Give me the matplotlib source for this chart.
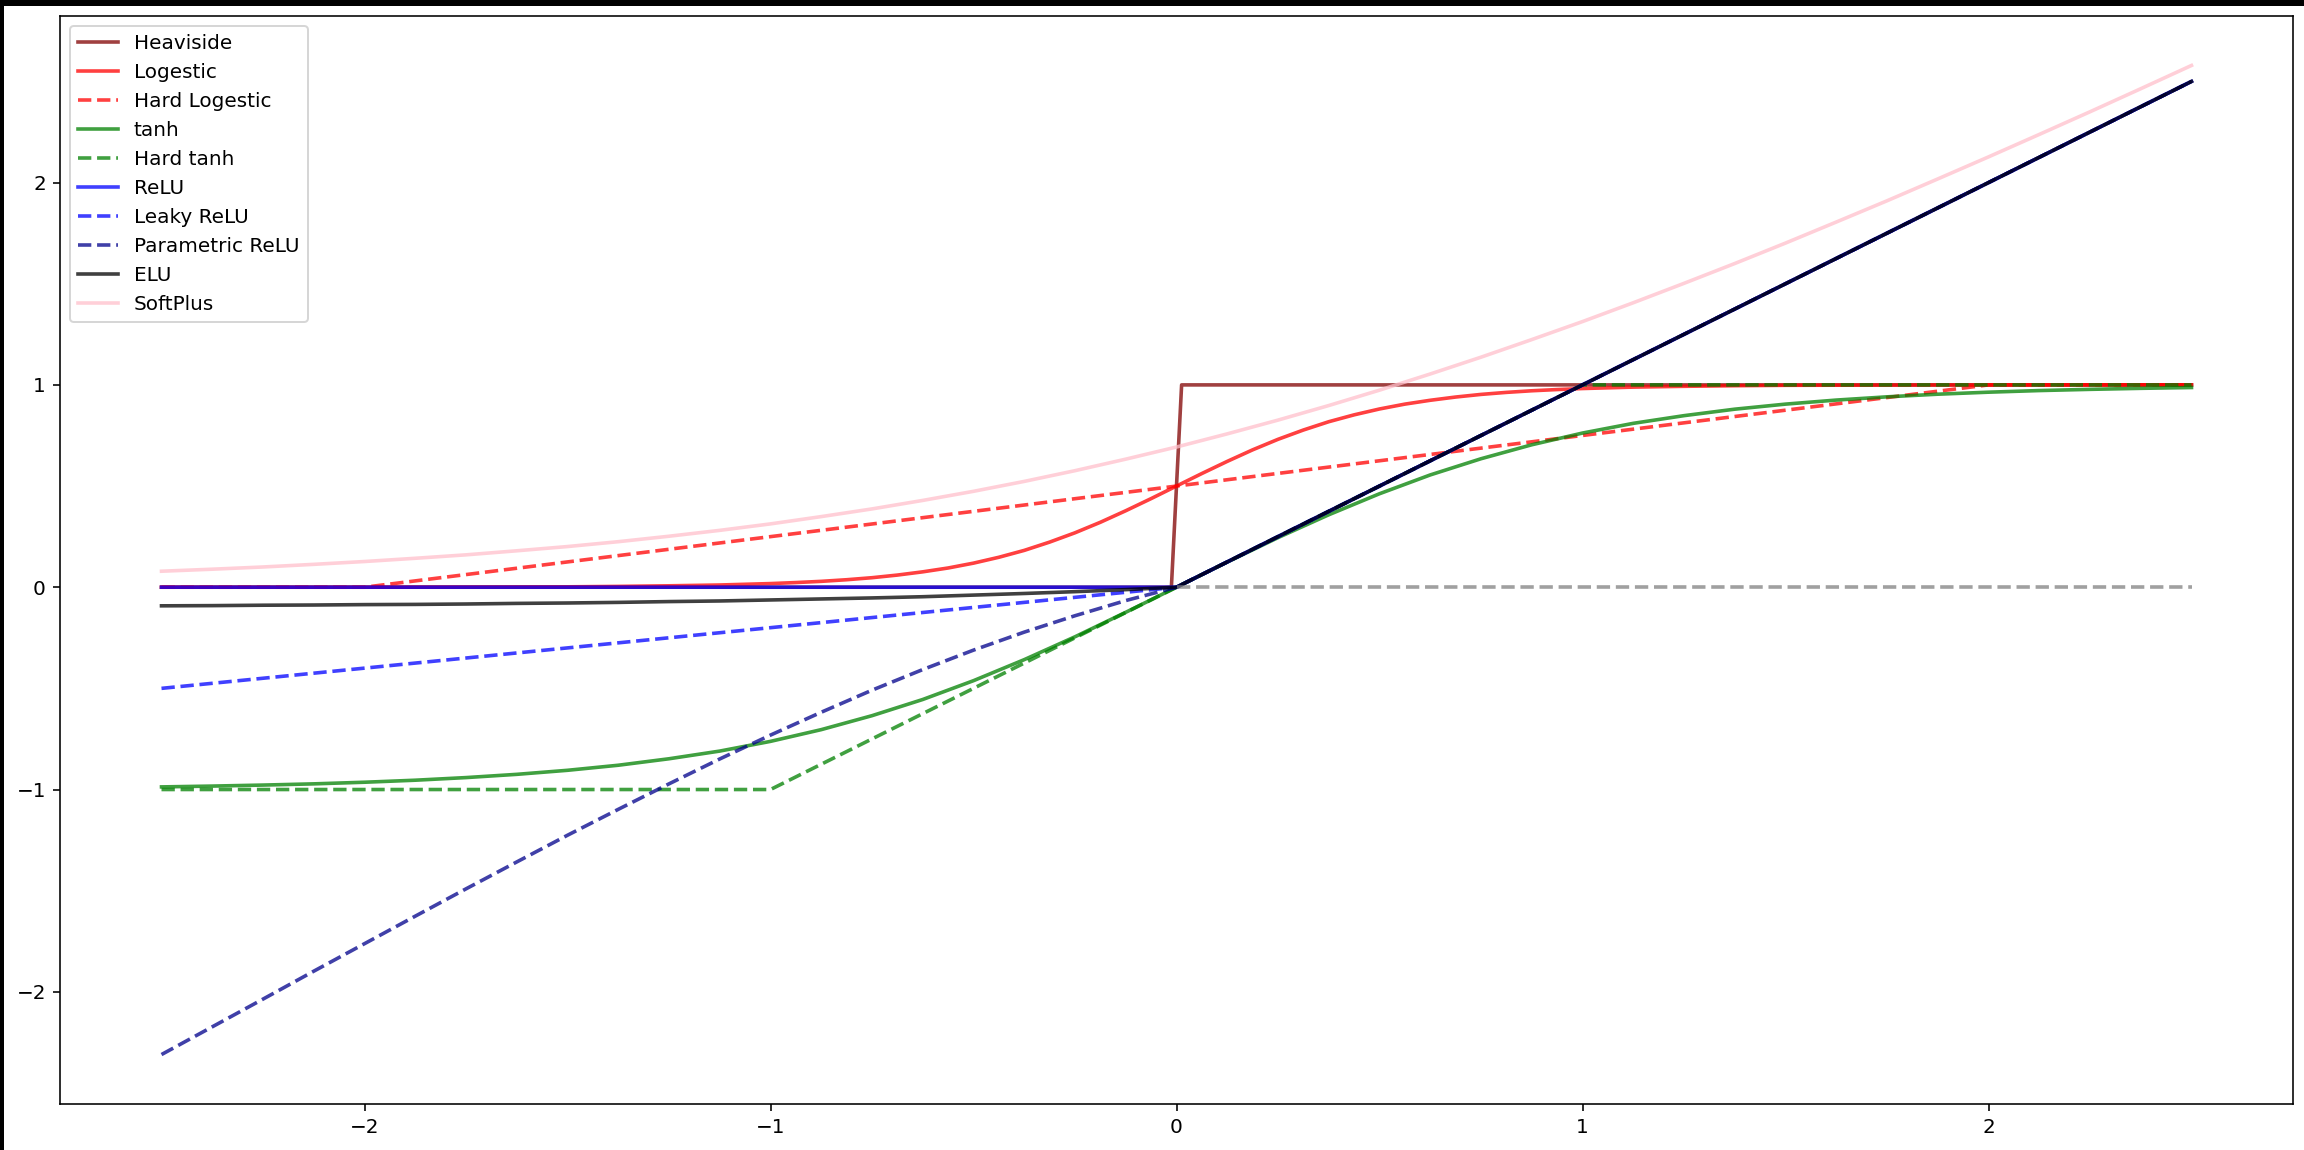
import matplotlib
matplotlib.use("Agg")
import matplotlib.pyplot as plt
from matplotlib.patches import Rectangle

# ---- data ----
x_grid = [-2.5, -2.375, -2.25, -2.125, -2.0, -1.875, -1.75, -1.625, -1.5, -1.375,
          -1.25, -1.125, -1.0, -0.875, -0.75, -0.625, -0.5, -0.375, -0.25, -0.125,
          0.0, 0.125, 0.25, 0.375, 0.5, 0.625, 0.75, 0.875, 1.0, 1.125,
          1.25, 1.375, 1.5, 1.625, 1.75, 1.875, 2.0, 2.125, 2.25, 2.375, 2.5]

logistic_x = [-2.5, -2.25, -2.0, -1.75, -1.5, -1.375, -1.25, -1.125, -1.0,
              -0.9375, -0.875, -0.8125, -0.75, -0.6875, -0.625, -0.5625, -0.5,
              -0.4375, -0.375, -0.3125, -0.25, -0.1875, -0.125, -0.0625, 0.0,
              0.0625, 0.125, 0.1875, 0.25, 0.3125, 0.375, 0.4375, 0.5,
              0.5625, 0.625, 0.6875, 0.75, 0.8125, 0.875, 0.9375, 1.0,
              1.125, 1.25, 1.375, 1.5, 1.75, 2.0, 2.25, 2.5]
logistic_y = [0.000, 0.000, 0.000, 0.001, 0.002, 0.004, 0.007, 0.011, 0.018,
              0.023, 0.029, 0.037, 0.047, 0.060, 0.076, 0.095, 0.119,
              0.148, 0.182, 0.223, 0.269, 0.321, 0.378, 0.438, 0.500,
              0.562, 0.622, 0.679, 0.731, 0.777, 0.818, 0.852, 0.881,
              0.905, 0.924, 0.940, 0.953, 0.963, 0.971, 0.977, 0.982,
              0.989, 0.993, 0.996, 0.998, 0.999, 1.000, 1.000, 1.000]

tanh_y = [-0.987, -0.983, -0.978, -0.972, -0.964, -0.954, -0.941, -0.925, -0.905, -0.880,
          -0.848, -0.810, -0.762, -0.704, -0.635, -0.555, -0.462, -0.358, -0.245, -0.124,
          0.000, 0.124, 0.245, 0.358, 0.462, 0.555, 0.635, 0.704, 0.762, 0.810,
          0.848, 0.880, 0.905, 0.925, 0.941, 0.954, 0.964, 0.972, 0.978, 0.983, 0.987]

softplus_y = [0.079, 0.089, 0.100, 0.113, 0.127, 0.143, 0.160, 0.180, 0.201, 0.225,
              0.252, 0.281, 0.313, 0.349, 0.387, 0.429, 0.474, 0.523, 0.576, 0.633,
              0.693, 0.758, 0.826, 0.898, 0.974, 1.054, 1.137, 1.224, 1.313, 1.406,
              1.502, 1.600, 1.701, 1.805, 1.910, 2.018, 2.127, 2.238, 2.350, 2.464, 2.579]

elu_x = [-2.5, -2.375, -2.25, -2.125, -2.0, -1.875, -1.75, -1.625, -1.5, -1.375,
         -1.25, -1.125, -1.0, -0.875, -0.75, -0.625, -0.5, -0.375, -0.25, -0.125,
         0.0, 2.5]
elu_y = [-0.092, -0.091, -0.089, -0.088, -0.086, -0.085, -0.083, -0.080, -0.078, -0.075,
         -0.071, -0.068, -0.063, -0.058, -0.053, -0.047, -0.039, -0.031, -0.022, -0.012,
         0.000, 2.5]

prelu_x = elu_x
prelu_y = [-2.310, -2.173, -2.036, -1.898, -1.762, -1.626, -1.491, -1.358, -1.226, -1.098,
           -0.972, -0.849, -0.731, -0.618, -0.509, -0.407, -0.311, -0.222, -0.141, -0.066,
           0.000, 2.5]

heaviside_x = [-2.5, -0.0126, 0.0126, 2.5]
heaviside_y = [0, 0, 1, 1]

hard_logistic_x = [-2.5, -2.0, 2.0, 2.5]
hard_logistic_y = [0, 0, 1, 1]

hard_tanh_x = [-2.5, -1.0, 1.0, 2.5]
hard_tanh_y = [-1, -1, 1, 1]

relu_x = [-2.5, 0.0, 2.5]
relu_y = [0, 0, 2.5]

leaky_x = [-2.5, 0.0, 2.5]
leaky_y = [-0.5, 0, 2.5]

baseline_x = [0.0, 2.5]
baseline_y = [0, 0]

labels = ["Heaviside", "Logestic", "Hard Logestic", "tanh", "Hard tanh",
          "ReLU", "Leaky ReLU", "Parametric ReLU", "ELU", "SoftPlus"]

# ---- figure ----
fig = plt.figure(figsize=(16, 1150 / 144), dpi=144)
ax = fig.add_axes([60 / 2304, 46 / 1150, (2293 - 60) / 2304, (1104 - 16) / 1150])

a = 0.75
lw = 1.8
ax.plot(heaviside_x, heaviside_y, color="maroon", alpha=a, lw=lw, label=labels[0])
ax.plot(logistic_x, logistic_y, color="red", alpha=a, lw=lw, label=labels[1])
ax.plot(hard_logistic_x, hard_logistic_y, color="red", ls="--", alpha=a, lw=lw, label=labels[2])
ax.plot(x_grid, tanh_y, color="green", alpha=a, lw=lw, label=labels[3])
ax.plot(hard_tanh_x, hard_tanh_y, color="green", ls="--", alpha=a, lw=lw, label=labels[4])
ax.plot(relu_x, relu_y, color="blue", alpha=a, lw=lw, label=labels[5])
ax.plot(leaky_x, leaky_y, color="blue", ls="--", alpha=a, lw=lw, label=labels[6])
ax.plot(prelu_x, prelu_y, color="darkblue", ls="--", alpha=a, lw=lw, label=labels[7])
ax.plot(elu_x, elu_y, color="black", alpha=a, lw=lw, label=labels[8])
ax.plot(x_grid, softplus_y, color="pink", alpha=a, lw=lw, label=labels[9])
ax.plot(baseline_x, baseline_y, color="gray", ls="--", alpha=a, lw=lw)

ax.set_xticks([-2, -1, 0, 1, 2])
ax.set_yticks([-2, -1, 0, 1, 2])
ax.set_xticklabels(["\u22122", "\u22121", "0", "1", "2"])
ax.set_yticklabels(["\u22122", "\u22121", "0", "1", "2"])
ax.legend(loc="upper left")

# screenshot border
fig.patches.append(Rectangle((0, 1 - 5 / 1150), 1, 5 / 1150, transform=fig.transFigure,
                             color="black", zorder=10))
fig.patches.append(Rectangle((0, 0), 3 / 2304, 1, transform=fig.transFigure,
                             color="black", zorder=10))

fig.savefig("out.png", dpi=144)
